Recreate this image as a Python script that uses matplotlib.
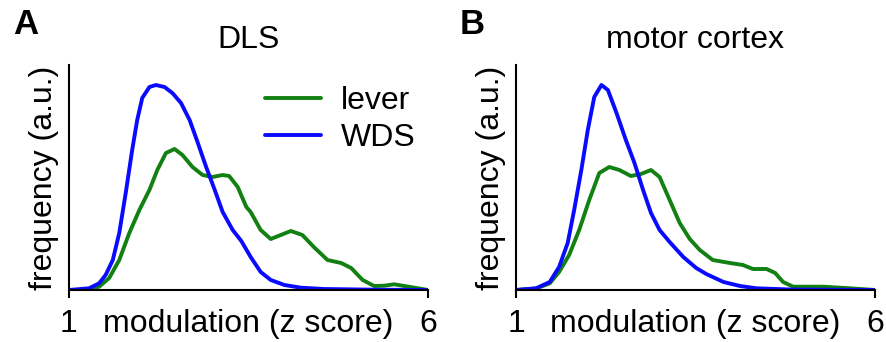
import matplotlib
matplotlib.use("Agg")
import matplotlib.pyplot as plt

plt.rcParams['font.family'] = ['Liberation Sans', 'DejaVu Sans']

# panel A - DLS (x in z score, y in arbitrary units)
dls_blue_x = [1.0, 1.28, 1.42, 1.51, 1.61, 1.70, 1.79, 1.88, 1.95, 2.02, 2.12, 2.21,
              2.33, 2.44, 2.56, 2.68, 2.79, 2.91, 3.03, 3.14, 3.28, 3.40, 3.53,
              3.67, 3.81, 4.00, 4.23, 4.55, 5.25, 6.0]
dls_blue_y = [0, 1.7, 6.7, 15, 30, 57, 97, 140, 170, 192, 203, 205,
              203, 197, 187, 170, 148, 123, 100, 78, 60, 49, 33,
              18, 10, 5, 2.3, 1, 0.3, 0]

dls_green_x = [1.0, 1.28, 1.42, 1.56, 1.70, 1.84, 1.98, 2.12, 2.23, 2.35, 2.47, 2.58,
               2.72, 2.86, 3.00, 3.14, 3.23, 3.35, 3.47, 3.53, 3.67, 3.81, 3.95,
               4.09, 4.25, 4.41, 4.60, 4.79, 4.93, 5.09, 5.25, 5.39, 5.53, 5.67,
               5.86, 6.0]
dls_green_y = [0, 0, 3.3, 12, 30, 57, 80, 100, 120, 137, 141, 135,
               123, 115, 113, 115, 114, 103, 83, 78, 60, 51, 55,
               59, 55, 43, 30, 27, 22, 10, 4, 4.3, 5.7, 4,
               1.7, 0]

# panel B - motor cortex
mc_blue_x = [1.0, 1.28, 1.47, 1.60, 1.72, 1.81, 1.91, 2.00, 2.09, 2.19, 2.28, 2.40,
             2.53, 2.65, 2.77, 2.88, 3.00, 3.14, 3.33, 3.51, 3.65, 3.89, 4.12,
             4.35, 4.81, 6.0]
mc_blue_y = [0, 1.7, 8, 23, 47, 80, 120, 160, 193, 205, 200, 177,
             150, 127, 100, 77, 60, 48, 33, 22, 16, 8, 4,
             1.7, 0.5, 0]

mc_green_x = [1.0, 1.28, 1.47, 1.60, 1.74, 1.88, 2.02, 2.16, 2.30, 2.44, 2.60, 2.74,
              2.88, 3.00, 3.14, 3.28, 3.42, 3.56, 3.74, 3.98, 4.16, 4.30, 4.49,
              4.61, 4.72, 4.86, 5.28, 5.65, 6.0]
mc_green_y = [0, 1.5, 6.7, 18, 35, 60, 90, 117, 123, 120, 114, 116,
              120, 113, 90, 67, 51, 40, 30, 27, 25, 21, 21,
              17, 8, 3.3, 3.3, 1.7, 0]

panels = [
    ('A', 'DLS', dls_green_x, dls_green_y, dls_blue_x, dls_blue_y),
    ('B', 'motor cortex', mc_green_x, mc_green_y, mc_blue_x, mc_blue_y),
]

W, H = 886, 342
fig = plt.figure(figsize=(W / 100, H / 100), dpi=100)

lefts = [69, 516]
for i, (letter, title, gx, gy, bx, by) in enumerate(panels):
    ax = fig.add_axes([lefts[i] / W, (H - 290) / H, 359 / W, 225 / H])
    ax.plot(gx, gy, color='#138013', lw=2.8, solid_joinstyle='round',
            solid_capstyle='round', label='lever')
    ax.plot(bx, by, color='#0a0aff', lw=2.8, solid_joinstyle='round',
            solid_capstyle='round', label='WDS')
    ax.set_xlim(1, 6)
    ax.set_ylim(0, 225)
    ax.set_xticks([1, 6])
    ax.set_xticklabels(['1', '6'])
    ax.set_yticks([])
    for s in ['top', 'right']:
        ax.spines[s].set_visible(False)
    for s in ['left', 'bottom']:
        ax.spines[s].set_linewidth(1.5)
    ax.tick_params(axis='x', length=6, width=1.5, labelsize=23, pad=8)
    ax.set_xlabel('modulation (z score)', fontsize=23, labelpad=-22)
    ax.set_ylabel('frequency (a.u.)', fontsize=23, labelpad=7.5)
    ax.set_title(title, fontsize=23, pad=12)
    fig.text((lefts[i] - 56) / W, 1 - 24 / H, letter, fontsize=25, fontweight='bold',
             ha='left', va='center')
    if i == 0:
        ax.legend(loc='upper left', bbox_to_anchor=(0.547, 0.905), frameon=False,
                  fontsize=23, handlelength=1.75, handletextpad=0.6,
                  labelspacing=0.22, borderpad=0, borderaxespad=0)

fig.savefig('out.png', dpi=100)
